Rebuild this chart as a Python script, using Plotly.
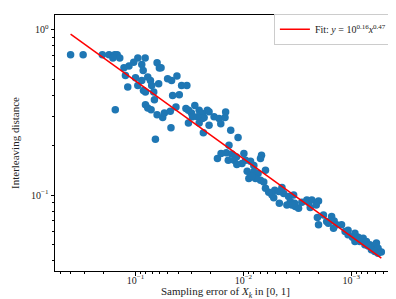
import plotly.graph_objects as go

sampling_error = [
    0.400, 0.306, 0.203, 0.176, 0.156, 0.148, 0.140, 0.162, 0.0952, 0.0814,
    0.104, 0.115, 0.128, 0.0875, 0.0849, 0.0631, 0.0601, 0.0580, 0.124, 0.100,
    0.0875, 0.0770, 0.0727, 0.118, 0.0952, 0.0844, 0.0809, 0.0708, 0.0610, 0.0678,
    0.0668, 0.0504, 0.0463, 0.0453, 0.0809, 0.0770, 0.0717, 0.0631, 0.0560, 0.0540,
    0.0476, 0.154, 0.0469, 0.0654, 0.0413, 0.0374, 0.0334, 0.0393, 0.0422, 0.0341,
    0.0323, 0.0303, 0.0282, 0.0257, 0.0240, 0.0216, 0.0231, 0.0240, 0.0267, 0.0296,
    0.0323, 0.0257, 0.0208, 0.0187, 0.0168, 0.0162, 0.0148, 0.0146, 0.0235, 0.0131,
    0.0112, 0.0136, 0.0144, 0.0128, 0.0116, 0.0138, 0.0174, 0.00989, 0.00954, 0.0122,
    0.0103, 0.00858, 0.00679, 0.00694, 0.00922, 0.00858, 0.00800, 0.00731, 0.00624, 0.00694,
    0.00647, 0.00624, 0.00772, 0.00890, 0.00512, 0.00523, 0.00439, 0.00423, 0.00464, 0.00381,
    0.00342, 0.00367, 0.00330, 0.00308, 0.00287, 0.00258, 0.00395, 0.00335, 0.00249, 0.00240,
    0.00232, 0.00201, 0.00211, 0.00206, 0.00201, 0.00181, 0.00169, 0.00152, 0.00144, 0.00137,
    0.00146, 0.00123, 0.00114, 0.00107, 0.000973, 0.000924, 0.000924, 0.000831, 0.000775, 0.000723,
    0.000672, 0.000627, 0.000584, 0.000564, 0.000526, 0.000747, 0.000650, 0.000605, 0.0208, 0.00835,
    0.00543, 0.00471, 0.00355, 0.00582, 0.0115, 0.0161, 0.00800, 0.00163, 0.00107, 0.000862,
    0.000697, 0.000564,
]
interleaving_distance = [
    0.704, 0.704, 0.704, 0.704, 0.704, 0.704, 0.675, 0.675, 0.675, 0.675,
    0.636, 0.602, 0.588, 0.615, 0.566, 0.630, 0.586, 0.588, 0.528, 0.512,
    0.493, 0.517, 0.493, 0.450, 0.460, 0.429, 0.420, 0.460, 0.471, 0.420,
    0.377, 0.505, 0.493, 0.400, 0.352, 0.336, 0.328, 0.306, 0.294, 0.313,
    0.321, 0.328, 0.255, 0.217, 0.524, 0.460, 0.460, 0.404, 0.341, 0.333,
    0.325, 0.313, 0.348, 0.325, 0.311, 0.325, 0.294, 0.290, 0.297, 0.297,
    0.273, 0.273, 0.264, 0.297, 0.290, 0.270, 0.294, 0.318, 0.238, 0.246,
    0.223, 0.200, 0.180, 0.177, 0.170, 0.162, 0.166, 0.178, 0.162, 0.162,
    0.155, 0.160, 0.174, 0.166, 0.139, 0.132, 0.138, 0.135, 0.141, 0.123,
    0.120, 0.110, 0.126, 0.126, 0.107, 0.0964, 0.111, 0.102, 0.0891, 0.0978,
    0.100, 0.0912, 0.0851, 0.0832, 0.0904, 0.0933, 0.0871, 0.0891, 0.0904, 0.0840,
    0.0933, 0.0920, 0.0871, 0.0731, 0.0660, 0.0758, 0.0692, 0.0741, 0.0697, 0.0660,
    0.0630, 0.0660, 0.0602, 0.0574, 0.0555, 0.0588, 0.0524, 0.0524, 0.0548, 0.0524,
    0.0500, 0.0490, 0.0512, 0.0477, 0.0452, 0.0500, 0.0466, 0.0456, 0.319, 0.130,
    0.100, 0.105, 0.0871, 0.104, 0.153, 0.178, 0.151, 0.0675, 0.0613, 0.0556,
    0.0491, 0.0445,
]

fit_log10_coef = 0.16
fit_exponent = 0.47

x_major_ticks = [1e-1, 1e-2, 1e-3]
x_major_labels = ["10<sup>−1</sup>", "10<sup>−2</sup>", "10<sup>−3</sup>"]
y_major_ticks = [1e0, 1e-1]
y_major_labels = ["10<sup>0</sup>", "10<sup>−1</sup>"]

x_minor = [m * 10.0 ** e for e in (-4, -3, -2, -1) for m in range(2, 10)]
y_minor = [m * 10.0 ** e for e in (-2, -1) for m in range(2, 10)]

x_min, x_max = min(sampling_error), max(sampling_error)
fit_x = [x_max, x_min]
fit_y = [10 ** fit_log10_coef * v ** fit_exponent for v in fit_x]

FONT = "Liberation Serif"

fig = go.Figure()
fig.add_trace(go.Scatter(
    x=sampling_error, y=interleaving_distance, mode="markers",
    marker=dict(color="#1f77b4", size=7.5, line=dict(width=0)),
    showlegend=False,
))
fig.add_trace(go.Scatter(
    x=fit_x, y=fit_y, mode="lines",
    line=dict(color="red", width=1.5),
    name="Fit: <i>y</i> = 10<sup>0.16</sup><i>x</i><sup>0.47</sup>",
))

axis_common = dict(
    showline=True, linecolor="black", linewidth=1, mirror=True,
    ticks="outside", ticklen=3.5, tickwidth=0.8, tickcolor="black",
    showgrid=False, zeroline=False,
    tickfont=dict(family=FONT, size=10, color="#222"),
)

fig.update_xaxes(
    type="log", range=[-0.2535, -3.415],
    tickmode="array", tickvals=x_major_ticks, ticktext=x_major_labels,
    ticklabelstandoff=-4,
    minor=dict(tickmode="array", tickvals=x_minor, ticks="outside", ticklen=2,
               tickwidth=0.6, tickcolor="black", showgrid=False),
    title=dict(text="Sampling error of <i>X</i><sub><i>k</i></sub> in [0, 1]",
               font=dict(family=FONT, size=11, color="#222"), standoff=0),
    **axis_common,
)
fig.update_yaxes(
    type="log", range=[-1.4596, 0.0886],
    tickmode="array", tickvals=y_major_ticks, ticktext=y_major_labels,
    minor=dict(tickmode="array", tickvals=y_minor, ticks="outside", ticklen=2,
               tickwidth=0.6, tickcolor="black", showgrid=False),
    title=dict(text="Interleaving distance",
               font=dict(family=FONT, size=11, color="#222"), standoff=9),
    **axis_common,
)

fig.update_layout(
    width=396, height=299,
    margin=dict(l=45, r=8, t=6, b=36),
    paper_bgcolor="white", plot_bgcolor="white",
    legend=dict(
        x=0.988, y=1.005, xanchor="right", yanchor="top",
        bgcolor="rgba(255,255,255,0.8)", bordercolor="#cccccc", borderwidth=1,
        font=dict(family=FONT, size=10, color="#222"),
        itemwidth=30, tracegroupgap=0,
    ),
)

fig.write_html("out.html")
